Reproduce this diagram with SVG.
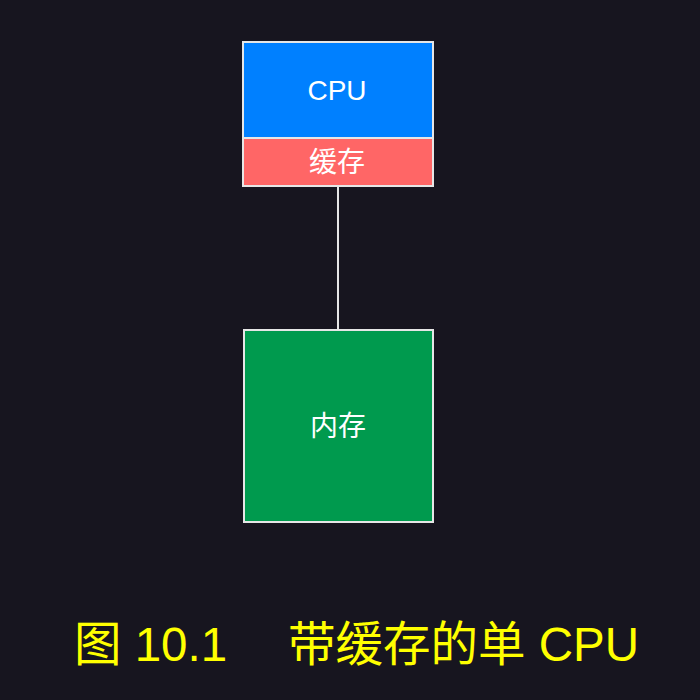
<svg xmlns="http://www.w3.org/2000/svg" width="700" height="700" viewBox="0 0 700 700">
<style>
.box{stroke:#e6e6e6;stroke-width:2}
.lbl{font-family:"Liberation Sans","Noto Sans CJK SC",sans-serif;fill:#ffffff;text-anchor:middle;font-size:28px}
.cap{font-family:"Liberation Sans","Noto Sans CJK SC",sans-serif;fill:#ffff00;font-size:47.5px}
</style>
<rect width="700" height="700" fill="#17151f"/>
<g id="connectors">
<line x1="338" y1="186" x2="338" y2="330" stroke="#e6e6e6" stroke-width="2"/>
</g>
<g id="cpu">
<rect class="box" x="243" y="42" width="190" height="96" fill="#0080ff"/>
<text class="lbl" x="337" y="100">CPU</text>
</g>
<g id="cache">
<rect class="box" x="243" y="138" width="190" height="48" fill="#ff6666"/>
<text class="lbl" x="337" y="172">缓存</text>
</g>
<g id="memory">
<rect class="box" x="244" y="330" width="189" height="192" fill="#009a4e"/>
<text class="lbl" x="338" y="436">内存</text>
</g>
<g id="caption">
<text class="cap" x="74" y="661">图 10.1</text>
<text class="cap" x="288" y="661">带缓存的单 CPU</text>
</g>
</svg>
